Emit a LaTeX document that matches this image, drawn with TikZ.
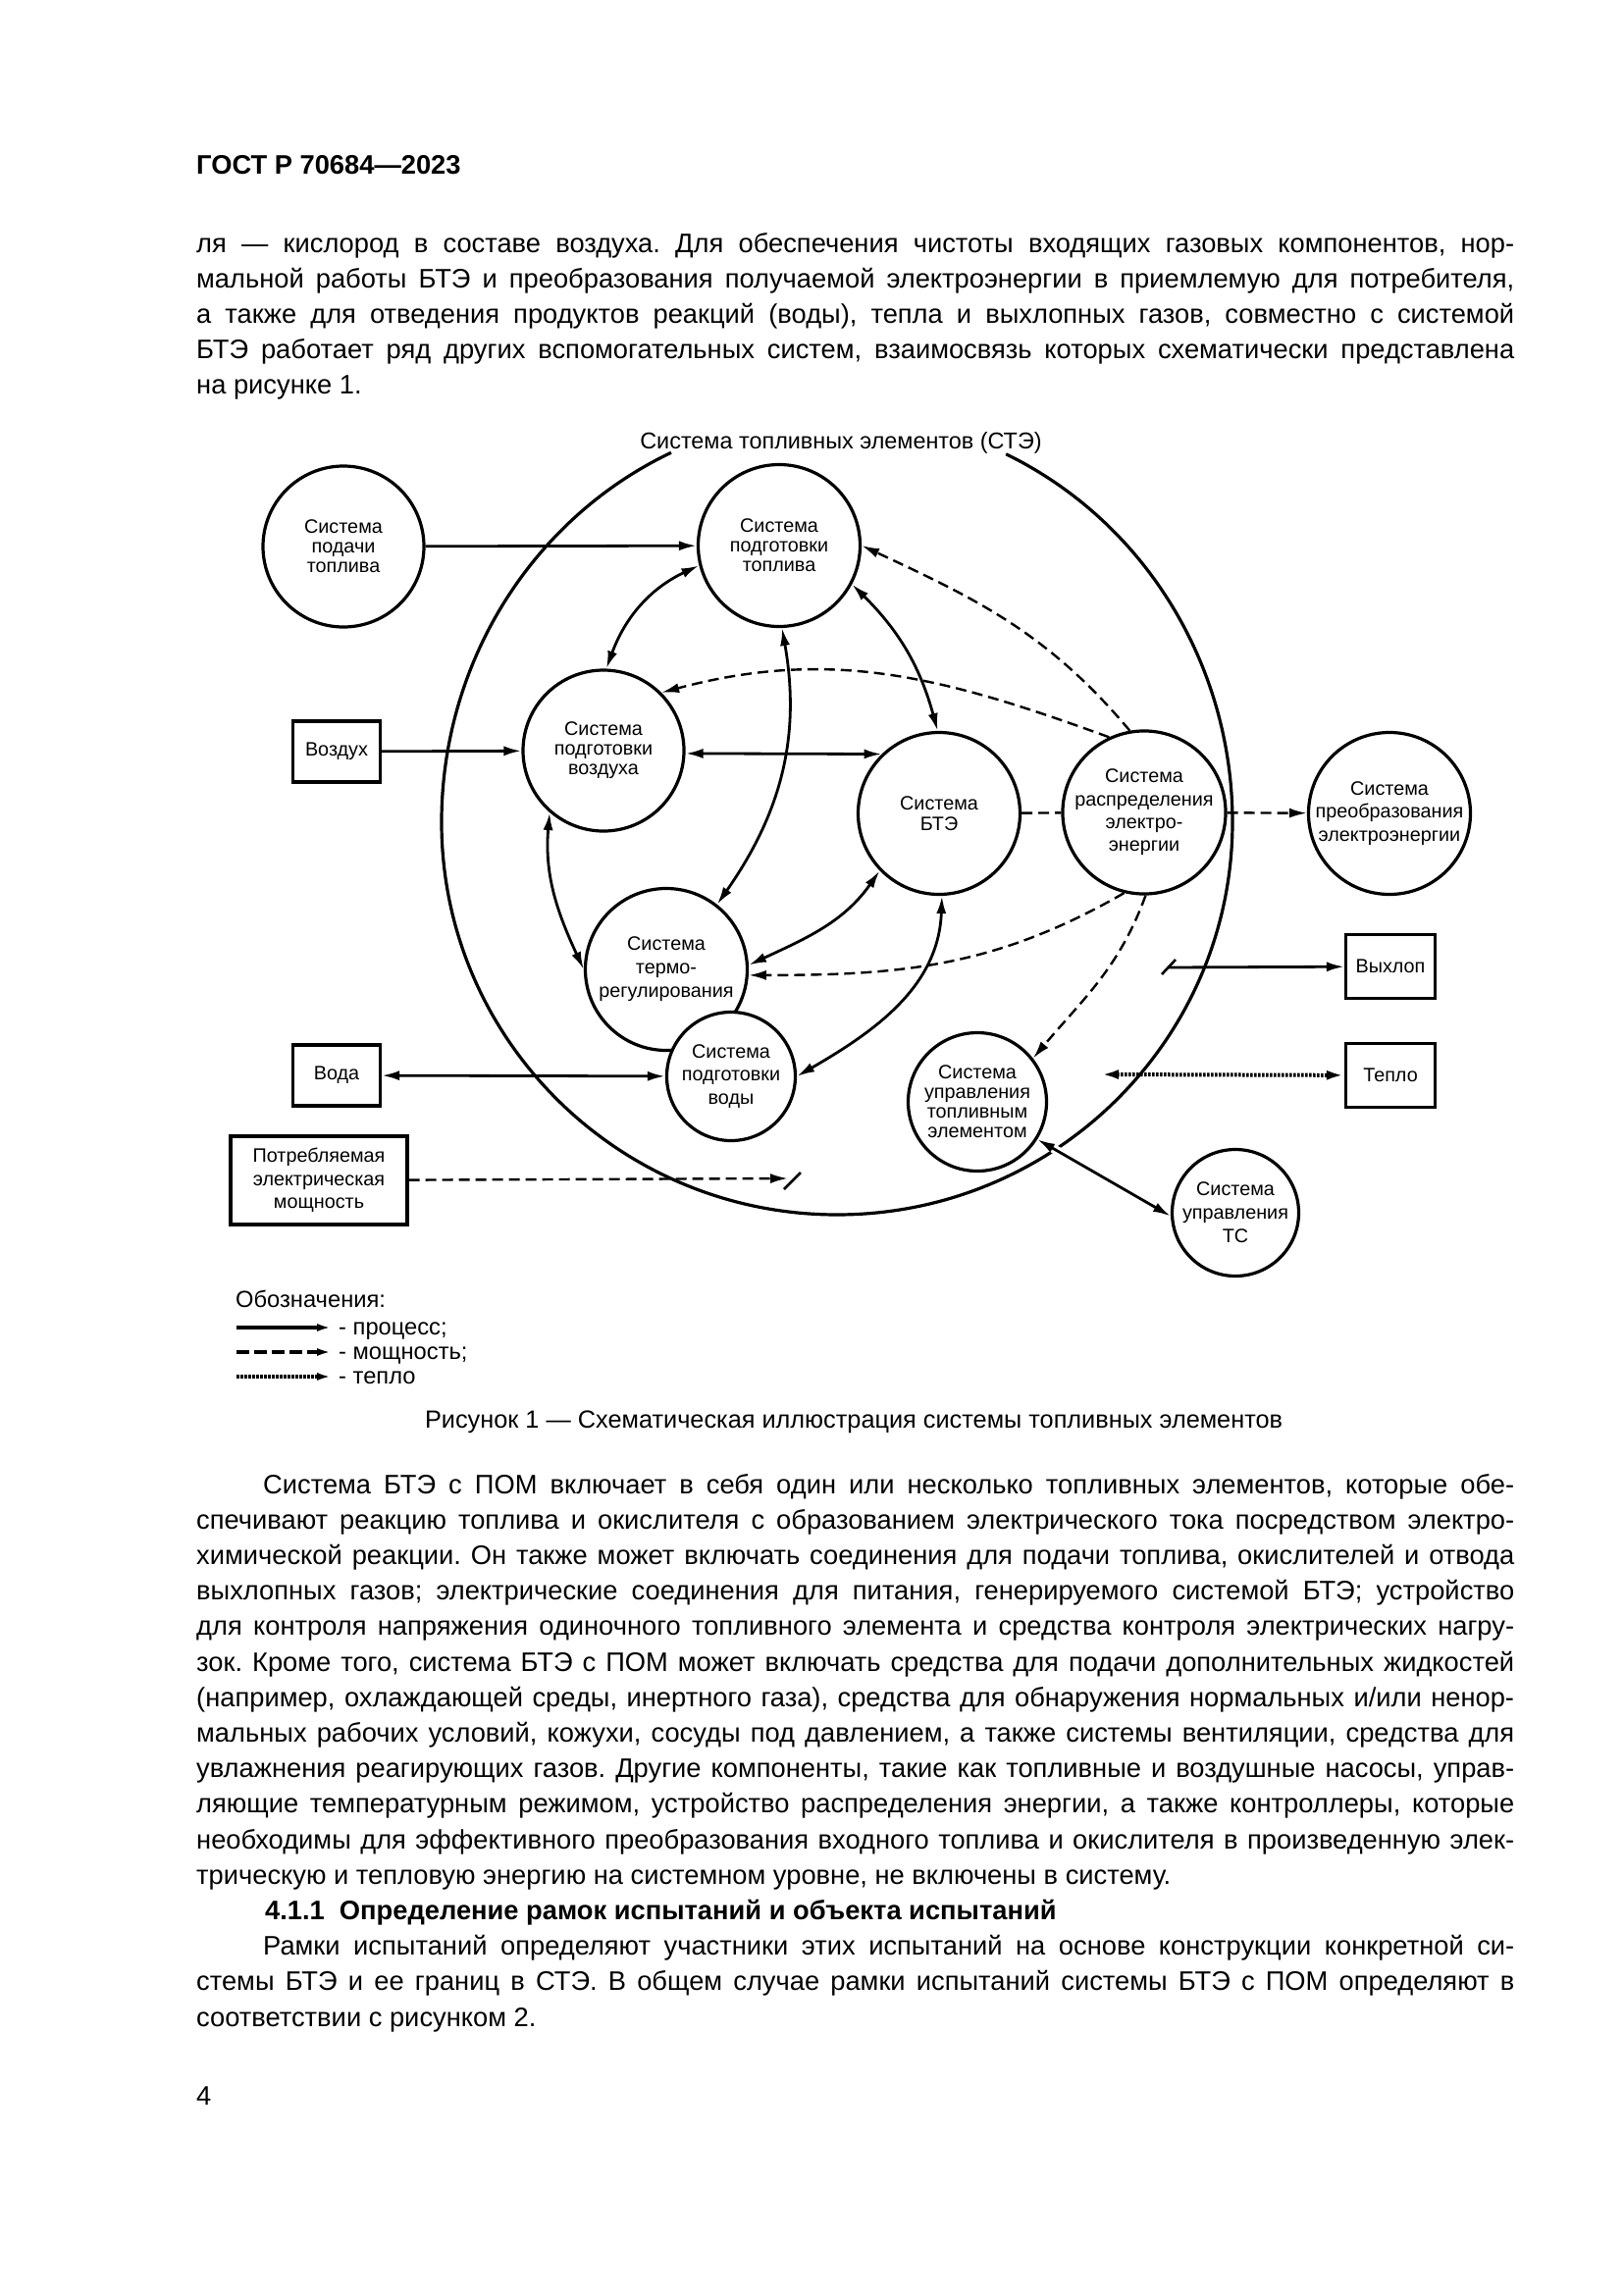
\documentclass[tikz,border=0pt]{standalone}
\usepackage{fontspec}
\setmainfont{Liberation Sans}
\usetikzlibrary{arrows.meta}
\frenchspacing
\newcommand\nf[1]{\fontsize{19.8pt}{#1pt}\selectfont}
\newcommand\bodyfont{\fontsize{27.3pt}{36.2pt}\selectfont}
\newcommand\legf{\fontsize{23.7pt}{28pt}\selectfont}
\newlength\tw
\setlength\tw{1343pt}
\newcommand\jl[1]{\hbox to \tw{#1}}
\newcommand\jli[1]{\hbox to \tw{\hskip 68pt #1}}
\newcommand\lastl[1]{\hbox{#1}}
\begin{document}
\begin{tikzpicture}[x=1pt,y=-1pt,
  >={Latex[length=18pt,width=10pt]},
  sys/.style={circle, draw, line width=3.2pt, fill=white, inner sep=0pt, align=center},
  blk/.style={draw, line width=3.2pt, fill=white, inner sep=0pt, align=center, font=\nf{23.5}},
  proc/.style={line width=2.8pt},
  pwr/.style={line width=2.4pt, dash pattern=on 11pt off 6pt},
  heat/.style={line width=4pt, dash pattern=on 2.5pt off 1.5pt},
  slash/.style={line width=2.6pt},
  body/.style={inner sep=0pt, anchor=base west, font=\bodyfont},
  legtip/.style={-{Latex[length=15pt,width=8pt]}},
]
\fill[white] (0,0) rectangle (1654,2339);
\useasboundingbox (0,0) rectangle (1654,2339);

% header and top paragraph
\node[body, font=\bodyfont\bfseries] (hdr) at (200,177) {ГОСТ Р 70684—2023};
\node[body] (par1) at (200,257) {\vtop{\baselineskip=36pt \lineskiplimit=-100pt
\jl{ля — кислород в составе воздуха. Для обеспечения чистоты входящих газовых компонентов, нор-}
\jl{мальной работы БТЭ и преобразования получаемой электроэнергии в приемлемую для потребителя,}
\jl{а также для отведения продуктов реакций (воды), тепла и выхлопных газов, совместно с системой}
\jl{БТЭ работает ряд других вспомогательных систем, взаимосвязь которых схематически представлена}
\lastl{на рисунке 1.}}};

% big fuel cell system contour (open under the title)
\draw[line width=3.2pt] (1025.2,462.8) arc[start angle=64.7, end angle=0, x radius=403pt, y radius=415pt]
  arc[start angle=0, end angle=-180, x radius=403pt, y radius=400pt]
  arc[start angle=180, end angle=114.8, x radius=403pt, y radius=415pt];
\node[inner sep=3pt, anchor=base, font=\fontsize{23.4pt}{28pt}\selectfont] (title) at (857,457) {Система топливных элементов (СТЭ)};

% circles
\node[sys, minimum size=164pt, font=\nf{20}] (sup) at (350,557) {Система\\подачи\\топлива};
\node[sys, minimum size=165pt, font=\nf{20}] (fprep) at (794,556) {Система\\подготовки\\топлива};
\node[sys, minimum size=164pt, font=\nf{20}] (air) at (615,765) {Система\\подготовки\\воздуха};
\node[sys, minimum size=165pt, font=\nf{21}] (bte) at (957,829) {Система\\БТЭ};
\node[sys, minimum size=164pt, font=\nf{23.3}] (dist) at (1166,828) {Система\\распределения\\электро-\\энергии};
\node[sys, minimum size=165pt, font=\nf{23.3}] (conv) at (1416,829) {Система\\преобразования\\электроэнергии};
\node[sys, minimum size=165pt, font=\nf{24}] (termo) at (679,988) {Система\\термо-\\регулирования};
\node[sys, minimum size=131pt, font=\nf{23.3}] (water) at (745,1097) {Система\\подготовки\\воды};
\node[sys, minimum size=141pt, font=\nf{20}] (ctrl) at (996,1123) {Система\\управления\\топливным\\элементом};
\node[sys, minimum size=129pt, font=\nf{24}] (ts) at (1259,1236) {Система\\управления\\ТС};

% boxes
\node[blk, minimum width=89pt, minimum height=62pt] (vozd) at (343,766) {Воздух};
\node[blk, minimum width=89pt, minimum height=62pt] (voda) at (343,1096) {Вода};
\node[blk, minimum width=180pt, minimum height=90pt] (potr) at (325,1203) {Потребляемая\\электрическая\\мощность};
\node[blk, minimum width=91pt, minimum height=65pt] (vyhl) at (1417,985) {Выхлоп};
\node[blk, minimum width=91pt, minimum height=65pt] (teplo) at (1417,1096) {Тепло};

% free ends
\coordinate (pend) at (803,1201);
\coordinate (xst) at (1190,986);
\coordinate (hst) at (1122,1095);

% process connectors
\draw[proc,->] (sup) -- (fprep);
\draw[proc,->] (vozd) -- (air);
\draw[proc,<->] (voda) -- (water);
\draw[proc,<->] (air.88) to[out=70,in=205] (fprep.194);
\draw[proc,<->] (fprep.332) to[bend left=15] (bte.91);
\draw[proc,<->] (fprep.272) to[out=-80,in=55] (termo.52);
\draw[proc,<->] (air.229) to[out=-95,in=115] (termo.180);
\draw[proc,<->] (air.-2) -- (bte.134);
\draw[proc,<->] (bte.224) to[out=235,in=25] (termo.3);
\draw[proc,<->] (bte.272) to[out=-92,in=30] (water.0);
\draw[white, line width=9pt, shorten <=12pt, shorten >=118pt] (ctrl.-32) -- (ts.183);
\draw[proc,<->] (ctrl.-32) -- (ts.183);
\draw[proc,->] (xst) -- (vyhl);
\draw[slash] ([shift={(-6,7)}]xst) -- ([shift={(8,-8)}]xst);

% power connectors
\draw[pwr,->] (dist.100) to[out=130,in=-25] (fprep.0);
\draw[pwr,->] (dist.115) to[out=160,in=15] (air.45);
\draw[pwr] (bte) -- (dist);
\draw[pwr,->] (dist) -- (conv);
\draw[pwr,->] (dist.256) to[out=210,in=0] (termo.-4);
\draw[pwr,->] (dist.271) to[out=250,in=50] (ctrl.38);
\draw[pwr,->] (potr) -- (pend);
\draw[slash] ([shift={(-4,11)}]pend) -- ([shift={(13,-6)}]pend);

% heat connector
\draw[heat,<->] (hst) -- (teplo);

% legend
\node[inner sep=0pt, anchor=base west, font=\legf] (leg) at (240,1332) {Обозначения:};
\coordinate (l1a) at (241,1353); \coordinate (l1b) at (338,1353);
\coordinate (l2a) at (241,1378); \coordinate (l2b) at (338,1378);
\coordinate (l3a) at (241,1403); \coordinate (l3b) at (338,1403);
\draw[line width=3.2pt, legtip] (l1a) -- (l1b);
\draw[line width=3.2pt, dash pattern=on 13pt off 5pt, legtip] (l2a) -- (l2b);
\draw[line width=3.2pt, dash pattern=on 2.5pt off 1.5pt, legtip] (l3a) -- (l3b);
\node[inner sep=0pt, anchor=base west, font=\legf] (lt1) at (345,1360) {- процесс;};
\node[inner sep=0pt, anchor=base west, font=\legf] (lt2) at (345,1385) {- мощность;};
\node[inner sep=0pt, anchor=base west, font=\legf] (lt3) at (345,1410) {- тепло};

% caption
\node[inner sep=0pt, anchor=base, font=\fontsize{25.3pt}{30pt}\selectfont] (cap) at (870,1455) {Рисунок 1 — Схематическая иллюстрация системы топливных элементов};

% lower text
\node[body] (par2) at (200,1522) {\vtop{\baselineskip=36.2pt \lineskiplimit=-100pt
\jli{Система БТЭ с ПОМ включает в себя один или несколько топливных элементов, которые обе-}
\jl{спечивают реакцию топлива и окислителя с образованием электрического тока посредством электро-}
\jl{химической реакции. Он также может включать соединения для подачи топлива, окислителей и отвода}
\jl{выхлопных газов; электрические соединения для питания, генерируемого системой БТЭ; устройство}
\jl{для контроля напряжения одиночного топливного элемента и средства контроля электрических нагру-}
\jl{зок. Кроме того, система БТЭ с ПОМ может включать средства для подачи дополнительных жидкостей}
\jl{(например, охлаждающей среды, инертного газа), средства для обнаружения нормальных и/или ненор-}
\jl{мальных рабочих условий, кожухи, сосуды под давлением, а также системы вентиляции, средства для}
\jl{увлажнения реагирующих газов. Другие компоненты, такие как топливные и воздушные насосы, управ-}
\jl{ляющие температурным режимом, устройство распределения энергии, а также контроллеры, которые}
\jl{необходимы для эффективного преобразования входного топлива и окислителя в произведенную элек-}
\lastl{трическую и тепловую энергию на системном уровне, не включены в систему.}
\lastl{\hskip 70pt\bfseries 4.1.1\hskip 0.55em Определение рамок испытаний и объекта испытаний}
\jli{Рамки испытаний определяют участники этих испытаний на основе конструкции конкретной си-}
\jl{стемы БТЭ и ее границ в СТЭ. В общем случае рамки испытаний системы БТЭ с ПОМ определяют в}
\lastl{соответствии с рисунком 2.}}};
\node[body] (pnum) at (200,2145) {4};
\end{tikzpicture}
\end{document}
